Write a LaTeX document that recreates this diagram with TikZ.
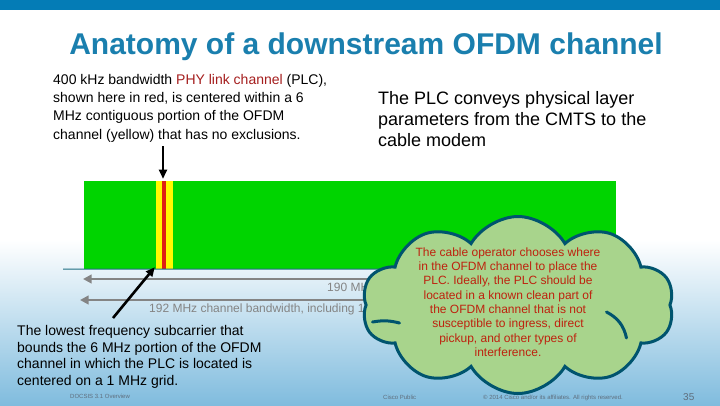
\documentclass[tikz,border=0pt]{standalone}
\usepackage{fontspec}
\setmainfont{Liberation Sans}
\usepackage{tikz}
\usetikzlibrary{positioning, arrows.meta, shapes.symbols}
\definecolor{topbar}{RGB}{4,124,182}
\definecolor{titleblue}{RGB}{26,127,174}
\definecolor{bandgreen}{RGB}{0,212,0}
\definecolor{plcred}{RGB}{222,32,20}
\definecolor{plcyellow}{RGB}{255,250,0}
\definecolor{phyred}{RGB}{165,30,30}
\definecolor{axisteal}{RGB}{30,110,130}
\definecolor{bwgray}{RGB}{132,132,132}
\definecolor{cloudfill}{RGB}{168,212,140}
\definecolor{clouddraw}{RGB}{0,84,110}
\definecolor{cloudtxt}{RGB}{190,34,14}
\definecolor{footgray}{RGB}{95,110,125}
\definecolor{bgmid}{RGB}{222,236,244}
\definecolor{bgbot}{RGB}{128,188,222}
\tikzset{
  ttl/.style    = {font=\bfseries\fontsize{30}{34}\selectfont, text=titleblue, inner sep=0pt},
  txt/.style    = {align=left, inner sep=0pt, anchor=north west},
  strip/.style  = {rectangle, inner sep=0pt, minimum height=88pt},
  ptr/.style    = {-{Triangle[length=3.2mm, width=2.8mm]}, line width=2.6pt},
  bw/.style     = {{Triangle[length=3mm, width=3mm]}-{Triangle[length=3mm, width=3mm]},
                   line width=2.6pt, bwgray},
  bwlbl/.style  = {font=\fontsize{12}{14}\selectfont, text=bwgray, inner sep=0pt, anchor=base west},
  cld/.style    = {cloud, cloud puffs=10, cloud puff arc=120, cloud ignores aspect,
                   draw=clouddraw, line width=3pt, fill=cloudfill,
                   minimum width=312pt, minimum height=177pt},
  curl/.style   = {draw=clouddraw, line width=3pt, line cap=round},
  cldtxt/.style = {align=center, font=\fontsize{12}{14.3}\selectfont, text=cloudtxt, inner sep=0pt},
  foot/.style   = {font=\fontsize{6}{7}\selectfont, text=footgray, inner sep=0pt, anchor=base west},
}

\begin{document}
\begin{tikzpicture}[x=1pt, y=-1pt]
  \useasboundingbox (0,0) rectangle (720,405);
  \fill[white] (0,0) rectangle (720,405);
  \shade[top color=white, middle color=bgmid, bottom color=bgbot] (0,240) rectangle (720,405);
  \fill[topbar] (0,0) rectangle (720,10);

  \node[ttl] (title) at (366,47) {Anatomy of a downstream OFDM channel};

  \node[txt, font=\fontsize{14}{18.3}\selectfont] (plcnote) at (53,74)
    {400 kHz bandwidth \textcolor{phyred}{PHY link channel} (PLC),\\
     shown here in red, is centered within a 6\\
     MHz contiguous portion of the OFDM\\
     channel (yellow) that has no exclusions.};
  \node[txt, font=\fontsize{18}{21}\selectfont] (plcinfo) at (378,91)
    {The PLC conveys physical layer\\
     parameters from the CMTS to the\\
     cable modem};

  \node[strip, fill=bandgreen, minimum width=532pt] (band) at (350,225) {};
  \node[strip, fill=plcyellow, minimum width=17pt] (six) at (164.5,225) {};
  \node[strip, fill=plcred, minimum width=4.5pt] (plc) at (164,225) {};
  \coordinate (axisl) at (63,269);
  \draw[axisteal, line width=1pt] (axisl) -- (band.south east);

  \coordinate (dn) at (163,146);
  \draw[ptr] (dn) -- ([yshift=2pt]plc.north -| dn);

  \coordinate (w1l) at (83,279);
  \coordinate (w1r) at (612,279);
  \coordinate (w2l) at (80,300);
  \coordinate (w2r) at (616,300);
  \draw[bw] (w1l) -- (w1r);
  \draw[bw] (w2l) -- (w2r);
  \node[bwlbl] (w1lbl) at (327,291) {190 MHz};
  \node[bwlbl] (w2lbl) at (149,312) {192 MHz channel bandwidth, including 1};

  \node[txt, font=\fontsize{14}{16.8}\selectfont] (lownote) at (17,325)
    {The lowest frequency subcarrier that\\
     bounds the 6 MHz portion of the OFDM\\
     channel in which the PLC is located is\\
     centered on a 1 MHz grid.};
  \coordinate (lp) at (113,318);
  \draw[ptr] (lp) -- ([shift={(-1pt,2pt)}]six.south west);

  \node[cld] (cloud) at (518,305) {};
  \draw[curl] (cloud.west) ++(8,17) to[bend left=12] ++(27,1);
  \draw[curl] (cloud.east) ++(-65,7) to[bend left=25] ++(20,26);
  \node[cldtxt] (cloudtext) at (508,302)
    {The cable operator chooses where\\
     in the OFDM channel to place the\\
     PLC. Ideally, the PLC should be\\
     located in a known clean part of\\
     the OFDM channel that is not\\
     susceptible to ingress, direct\\
     pickup, and other types of\\
     interference.};

  \node[foot] (deck) at (70,398) {DOCSIS 3.1 Overview};
  \node[foot] (pub) at (383,399) {Cisco Public};
  \node[foot] (copy) at (483,399) {\textcopyright{} 2014 Cisco and/or its affiliates. All rights reserved.};
  \node[foot, font=\fontsize{10}{12}\selectfont] (page) at (683,400) {35};
\end{tikzpicture}
\end{document}
